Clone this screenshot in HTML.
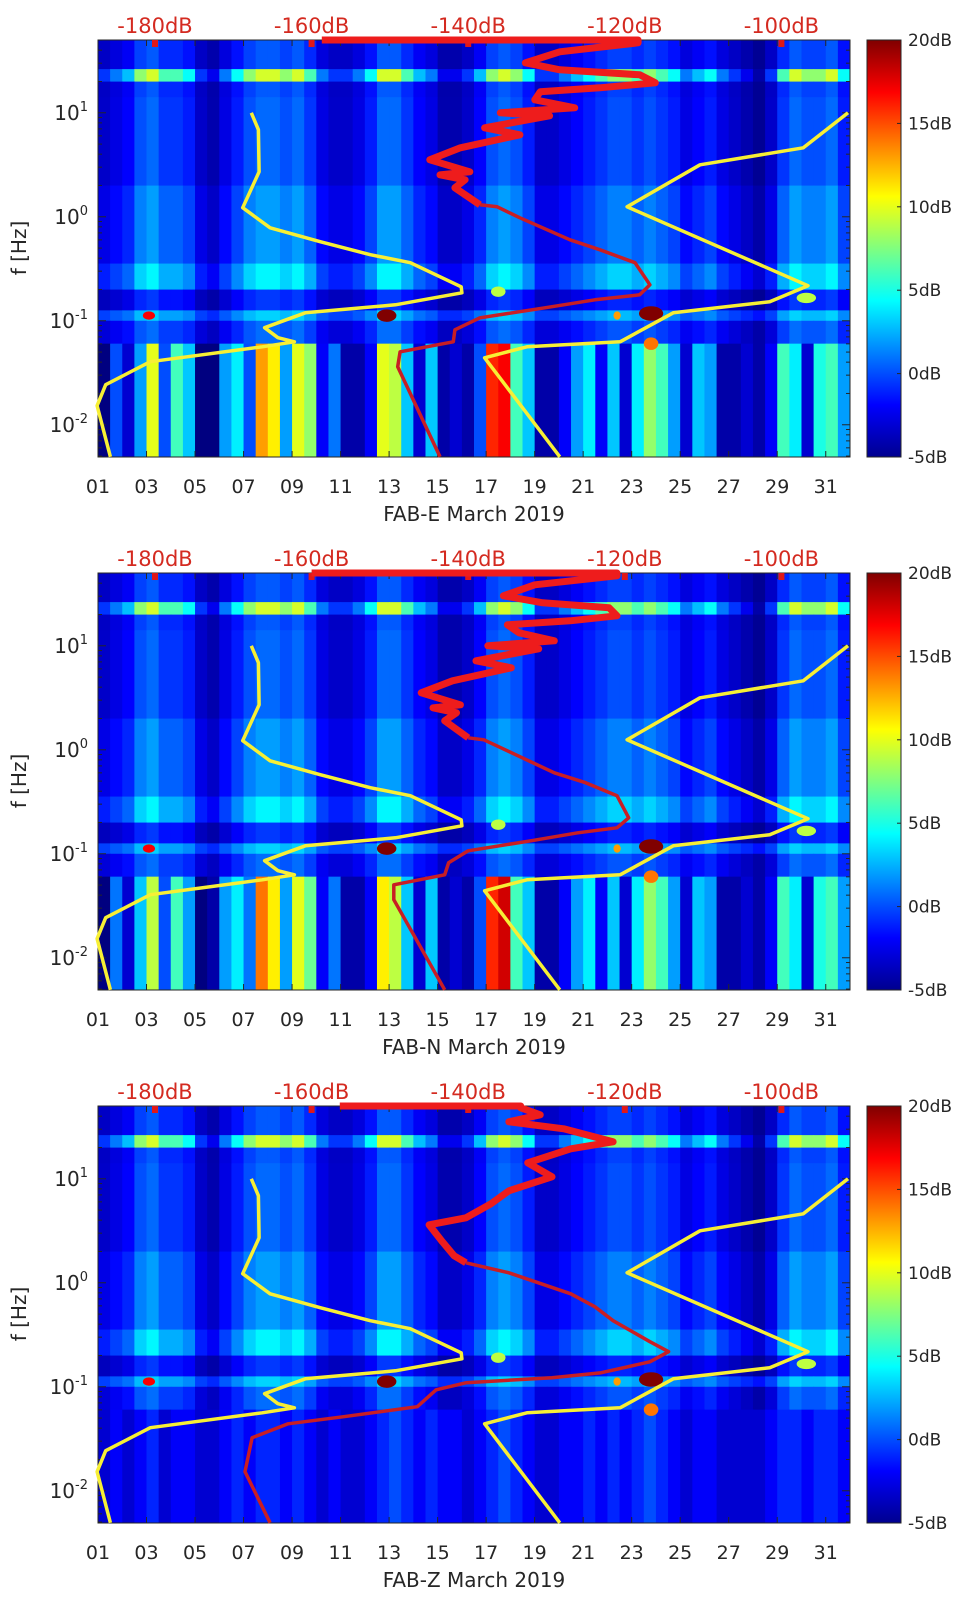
<!DOCTYPE html>
<html><head><meta charset="utf-8">
<style>
html,body{margin:0;padding:0;background:#fff;}
svg{display:block;font-family:"DejaVu Sans","Liberation Sans",sans-serif;}
</style></head>
<body>
<svg id="fig" width="962" height="1599" viewBox="0 0 962 1599" xmlns="http://www.w3.org/2000/svg">
<defs>
<linearGradient id="jetgrad" x1="0" y1="1" x2="0" y2="0">
<stop offset="0" stop-color="#00008f"/>
<stop offset="0.125" stop-color="#0000ff"/>
<stop offset="0.375" stop-color="#00ffff"/>
<stop offset="0.625" stop-color="#ffff00"/>
<stop offset="0.875" stop-color="#ff0000"/>
<stop offset="1" stop-color="#800000"/>
</linearGradient>
</defs>
</svg>
<script>
// ---- data ----
const panelNames = ["FAB-E March 2019","FAB-N March 2019","FAB-Z March 2019"];
const dayTicks = ["01","03","05","07","09","11","13","15","17","19","21","23","25","27","29","31"];
const dbTicks = [-180,-160,-140,-120,-100];
const cbTicks = [20,15,10,5,0,-5];
const decadeTicks = [1,0,-1,-2];
// daytime activity per half-day (0..10)
const actLevel = [2,3,4,7,8,6,6,5,2,1,3,5,7,8,8,7,8,6,3,2,2,3,5,8,8,6,4,3,1,1,2,4,7,8,7,5,2,2,3,4,5,6,7,7,6,7,6,5,3,4,5,3,2,1,0,2,6,8,7,7,8,5];
// long-period band level (dB) per half-day
const lowE = [-5,0,-3,2,10,0,6,3,-5,-5,2,4,0,13,11,2,10,8,-2,1,-4,-4,-2,10,9,3,-3,3,-4,-3,-4,0,16,17,6,3,-4,-4,-2,2,4,-2,3,-3,4,8,6,2,-3,3,2,-4,-4,-3,-4,-2,6,4,-3,5,6,2];
const lowN = [-5,1,-3,3,9,0,6,2,-5,-4,2,4,1,14,11,2,10,7,-2,1,-4,-4,-2,11,9,3,-3,3,-4,-3,-4,0,16,18,6,3,-4,-4,-2,2,4,-2,3,-3,4,8,6,2,-3,3,2,-4,-4,-3,-4,-2,6,4,-3,5,6,2];
const lowZ = [-3,-2,-3,-2,-1,-3,-2,-2,-3,-3,-2,-1,-2,-1,-1,-2,-1,-2,-3,-2,-3,-3,-2,-1,0,-1,-2,-1,-2,-2,-3,-2,-1,0,-1,-2,-3,-3,-2,-2,-1,-2,-1,-2,-1,0,-1,-2,-3,-2,-2,-3,-3,-3,-3,-2,-1,-1,-2,-1,-1,-2];
// frequency bands (log10 Hz)
const bandTop = [1.70,1.42,1.30,1.15,0.30,-0.45,-0.70,-0.90,-1.00,-1.22];
const bandBot = [1.42,1.30,1.15,0.30,-0.45,-0.70,-0.90,-1.00,-1.22,-2.31];
const bandBase = [-4.5,-4,-4.5,-4.5,-4,-3,-4.5,-1.5,-4,0];
const bandSens = [0.6,1.7,0.6,0.65,0.75,0.9,0.5,0.6,0.6,-1];
// microseism hot spots
const spotDay = [3.1,12.9,23.8,23.8,17.5,22.4,30.2];
const spotLogF = [-0.95,-0.95,-0.93,-1.22,-0.72,-0.95,-0.78];
const spotLevel = [17,20,20,14,9,13,9];
const spotHalfDays = [0.25,0.4,0.5,0.3,0.3,0.15,0.4];
const spotHalfLogF = [0.04,0.06,0.07,0.06,0.05,0.04,0.05];
// Peterson low / high noise models
const nlnmDb = [-167.7,-166.8,-166.7,-168.8,-165.3,-158.9,-152.5,-147.4,-140.9,-140.8,-149.3,-160.8,-166.0,-164.3,-162.2,-166.3,-180.6,-186.3,-187.4,-185.7];
const nlnmLogF = [1.0,0.837,0.433,0.087,-0.106,-0.240,-0.365,-0.442,-0.673,-0.731,-0.846,-0.923,-1.067,-1.163,-1.202,-1.25,-1.394,-1.615,-1.817,-2.308];
const nhnmDb = [-91.5,-97.2,-110.4,-119.7,-96.6,-101.5,-113.8,-120.6,-132.5,-137.9,-128.3];
const nhnmLogF = [1.0,0.663,0.5,0.096,-0.663,-0.817,-0.923,-1.202,-1.25,-1.356,-2.308];
// station median PSD
const redEDb = [-158.7,-118.3,-118.3,-128.3,-132.7,-128.3,-118.1,-116.1,-123.2,-130.8,-131.5,-126.4,-135.9,-129.6,-137.9,-133.4,-141.0,-144.9,-139.8,-143.6,-140.4,-141.7,-138.5,-136.3,-133.4,-127.0,-123.2,-118.7,-116.8,-118.1,-123.8,-130.2,-138.5,-141.7,-141.9,-148.7,-149.0,-143.6];
const redELogF = [1.70,1.70,1.673,1.587,1.481,1.413,1.365,1.288,1.240,1.202,1.125,1.048,1.0,0.971,0.856,0.788,0.663,0.548,0.433,0.404,0.356,0.279,0.115,0.096,-0.010,-0.221,-0.317,-0.442,-0.654,-0.750,-0.798,-0.875,-0.971,-1.087,-1.202,-1.298,-1.442,-2.308];
const redNDb = [-160.0,-121.0,-121.0,-131.5,-135.5,-130.5,-122.0,-121.0,-127.0,-135.0,-133.5,-129.0,-137.5,-131.0,-139.0,-134.5,-142.0,-146.0,-141.0,-144.5,-141.5,-143.0,-140.0,-138.0,-135.0,-129.0,-125.0,-121.0,-119.5,-121.0,-126.0,-132.0,-140.0,-142.5,-143.0,-149.5,-149.5,-143.0];
const redNLogF = redELogF.slice();
const redZDb = [-156.4,-133.3,-133.3,-130.8,-134.8,-127.8,-121.5,-126.9,-132.4,-129.3,-134.8,-137.1,-140.3,-145.0,-143.3,-141.8,-140.3,-134.8,-126.9,-123.8,-121.5,-116.8,-114.4,-116.8,-123.0,-129.3,-140.3,-144.1,-146.5,-155.9,-163.0,-167.6,-168.5,-165.3];
const redZLogF = [1.70,1.70,1.683,1.615,1.548,1.481,1.356,1.288,1.154,1.019,0.885,0.760,0.625,0.558,0.394,0.260,0.192,0.096,-0.106,-0.231,-0.365,-0.567,-0.663,-0.760,-0.865,-0.913,-0.962,-1.029,-1.192,-1.288,-1.356,-1.490,-1.817,-2.308];

const panelLow = [lowE, lowN, lowZ];
const panelRedDb = [redEDb, redNDb, redZDb];
const panelRedLogF = [redELogF, redNLogF, redZLogF];

// ---- layout ----
const NS = "http://www.w3.org/2000/svg";
const svg = document.getElementById("fig");
const PL = 98, PR = 850, PH = 417;
const panelTops = [40, 573, 1106];
const DAY0 = 1, DAY1 = 32, LF0 = -2.31, LF1 = 1.70;
function X(day){ return PL + (day - DAY0) / (DAY1 - DAY0) * (PR - PL); }
function XdB(db){ return 155 + (db + 180) * 7.83; }
function mkY(top){ return lf => top + (LF1 - lf) / (LF1 - LF0) * PH; }
function jet(v){
  let t = (v + 5) / 25; t = Math.max(0, Math.min(1, t));
  const c = x => Math.round(255 * Math.max(0, Math.min(1, x)));
  return `rgb(${c(1.5 - Math.abs(4*t - 3))},${c(1.5 - Math.abs(4*t - 2))},${c(1.5 - Math.abs(4*t - 1))})`;
}
function el(tag, attrs, parent){
  const e = document.createElementNS(NS, tag);
  for (const k in attrs) e.setAttribute(k, attrs[k]);
  (parent || svg).appendChild(e);
  return e;
}

panelTops.forEach((top, p) => {
  const Y = mkY(top);
  const g = el("g", {});
  
  

  const hm = el("g", {}, g);
  
  
  const low = panelLow[p];
  for (let r = 0; r < bandTop.length; r++){
    for (let c = 0; c < actLevel.length; c++){
      const v = bandSens[r] < 0 ? low[c] + bandBase[r] : bandBase[r] + bandSens[r] * actLevel[c];
      const x0 = X(DAY0 + c * 0.5), x1 = X(DAY0 + (c + 1) * 0.5);
      const cell = el("rect", {x: x0, y: Y(bandTop[r]), width: x1 - x0 + 0.5, height: Y(bandBot[r]) - Y(bandTop[r]) + 0.5, fill: jet(v)}, hm);
      
      
    }
  }
  for (let s = 0; s < spotDay.length; s++){
    const sp = el("ellipse", {cx: X(spotDay[s]), cy: Y(spotLogF[s]), rx: X(spotDay[s] + spotHalfDays[s]) - X(spotDay[s]), ry: Y(spotLogF[s] - spotHalfLogF[s]) - Y(spotLogF[s]), fill: jet(spotLevel[s])}, hm);
    
    
  }

  const box = el("rect", {x: PL, y: top, width: PR - PL, height: PH, fill: "none", stroke: "#262626", "stroke-width": 1}, g);
  
  

  dayTicks.forEach(lbl => {
    const x = X(parseInt(lbl, 10));
    el("line", {x1: x, x2: x, y1: top + PH, y2: top + PH - 6, stroke: "#262626"}, g);
    el("line", {x1: x, x2: x, y1: top, y2: top + 6, stroke: "#262626"}, g);
    const t = el("text", {x: x, y: top + PH + 36, "text-anchor": "middle", "font-size": 19, fill: "#262626"}, g);
    t.textContent = lbl;
    
    
  });
  for (let d = -3; d <= 1; d++){
    for (let m = 1; m <= 9; m++){
      const lf = d + Math.log10(m);
      if (lf < LF0 || lf > LF1) continue;
      const len = m === 1 ? 8 : 4;
      const y = Y(lf);
      el("line", {x1: PL, x2: PL + len, y1: y, y2: y, stroke: "#262626"}, g);
      el("line", {x1: PR, x2: PR - len, y1: y, y2: y, stroke: "#262626"}, g);
    }
  }
  decadeTicks.forEach(d => {
    const y = Y(d);
    const t = el("text", {x: 88, y: y + 7, "text-anchor": "end", "font-size": 20, fill: "#262626"}, g);
    
    
    const a = el("tspan", {}, t); a.textContent = "10";
    const b = el("tspan", {dy: -9, "font-size": 13}, t); b.textContent = String(d);
  });
  const yl = el("text", {x: 0, y: 0, transform: `translate(26,${top + 208}) rotate(-90)`, "text-anchor": "middle", "font-size": 20, fill: "#262626"}, g);
  yl.textContent = "f [Hz]";
  
  
  const xl = el("text", {x: (PL + PR) / 2, y: top + PH + 64, "text-anchor": "middle", "font-size": 20, fill: "#262626"}, g);
  xl.textContent = panelNames[p];
  
  
  dbTicks.forEach(db => {
    const t = el("text", {x: XdB(db), y: top - 7, "text-anchor": "middle", "font-size": 21, fill: "#d42a20"}, g);
    t.textContent = db + "dB";
    
    
    const m = el("rect", {x: XdB(db) - 3, y: top, width: 6, height: 7, fill: "#e01818"}, g);
    
    
  });

  const path = (dbArr, lfArr, from, to) => {
    let s = "";
    for (let i = from; i < to; i++) s += (i === from ? "M" : "L") + XdB(dbArr[i]).toFixed(1) + "," + Y(lfArr[i]).toFixed(1);
    return s;
  };
  const nl = el("path", {d: path(nlnmDb, nlnmLogF, 0, nlnmDb.length), fill: "none", stroke: "#f7ef35", "stroke-width": 3.5, "stroke-linejoin": "round"}, g);
  
  
  const nh = el("path", {d: path(nhnmDb, nhnmLogF, 0, nhnmDb.length), fill: "none", stroke: "#f7ef35", "stroke-width": 3.5, "stroke-linejoin": "round"}, g);
  
  
  const rdb = panelRedDb[p], rlf = panelRedLogF[p];
  let split = rlf.findIndex(v => v < 0.1);
  const r1 = el("path", {d: path(rdb, rlf, split - 1, rdb.length), fill: "none", stroke: "#c81e24", "stroke-width": 3.5, "stroke-linejoin": "round"}, g);
  
  
  const r2 = el("path", {d: path(rdb, rlf, 0, split), fill: "none", stroke: "#ee1c1c", "stroke-width": 7, "stroke-linejoin": "round"}, g);
  
  

  const cb = el("rect", {x: 867, y: top, width: 34, height: PH, fill: "url(#jetgrad)", stroke: "#262626", "stroke-width": 1}, g);
  
  
  cbTicks.forEach(v => {
    const y = top + (20 - v) / 25 * PH;
    el("line", {x1: 901, x2: 897, y1: y, y2: y, stroke: "#262626"}, g);
    const t = el("text", {x: 908, y: y + 6, "font-size": 17, fill: "#262626"}, g);
    t.textContent = v + "dB";
    
    
  });
});
</script>
</body></html>
